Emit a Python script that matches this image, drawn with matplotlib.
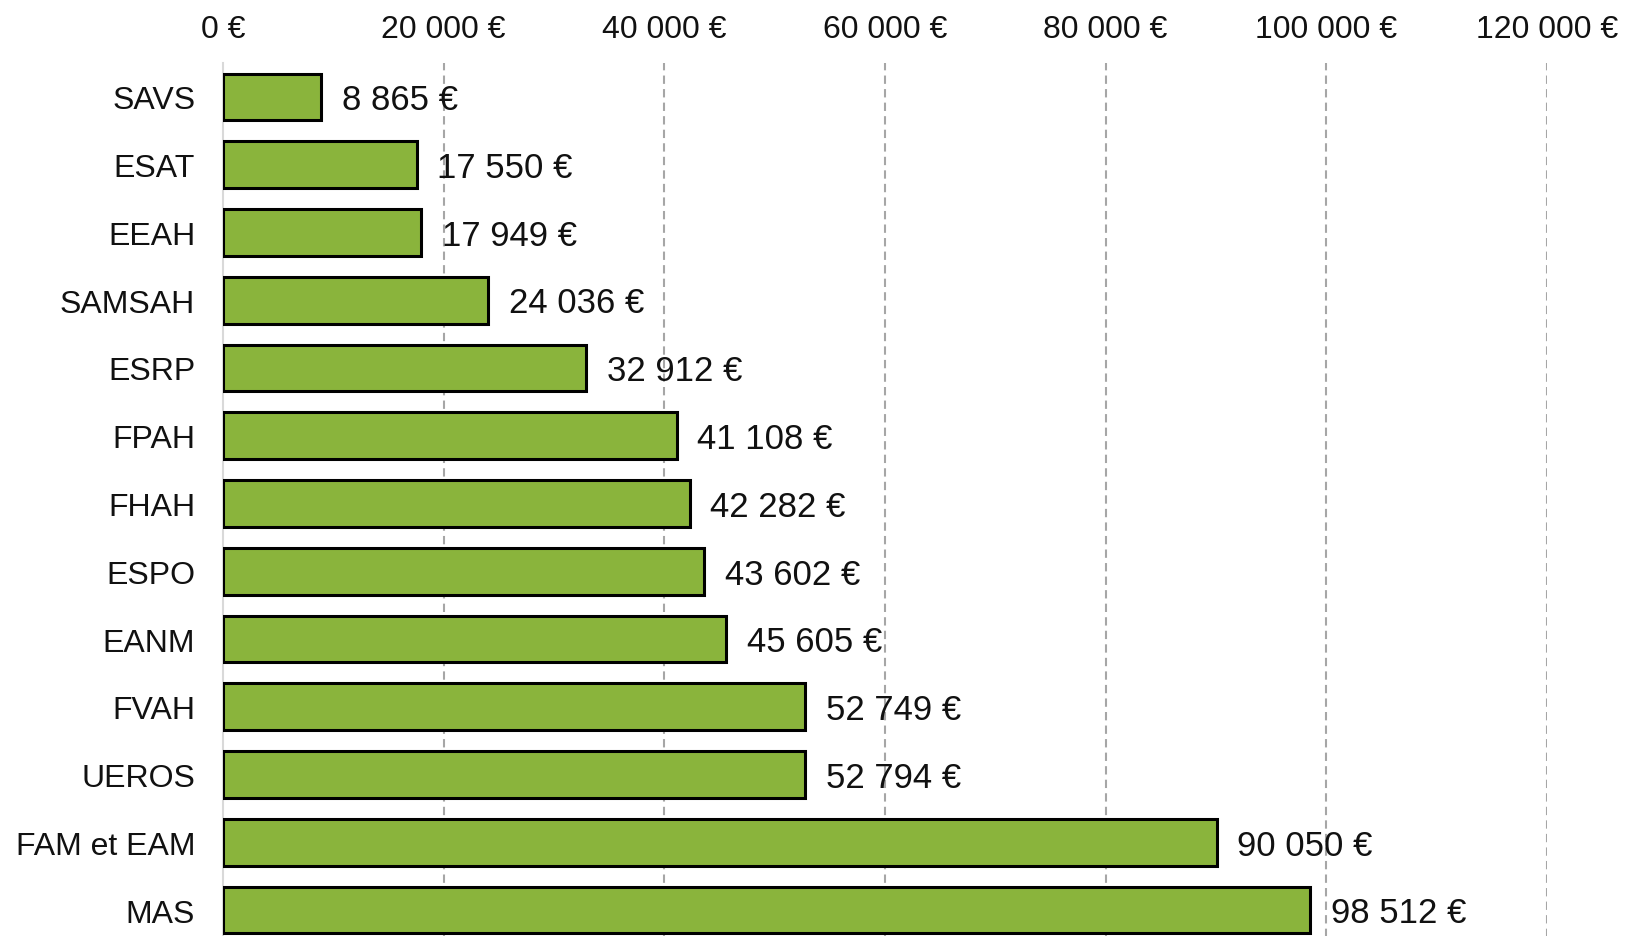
import matplotlib
matplotlib.use("Agg")
import matplotlib.pyplot as plt

categories = ["SAVS", "ESAT", "EEAH", "SAMSAH", "ESRP", "FPAH", "FHAH", "ESPO",
              "EANM", "FVAH", "UEROS", "FAM et EAM", "MAS"]
values = [8865, 17550, 17949, 24036, 32912, 41108, 42282, 43602,
          45605, 52749, 52794, 90050, 98512]
xticks = [0, 20000, 40000, 60000, 80000, 100000, 120000]

def fmt(v):
    return f"{v:,.0f}".replace(",", " ") + " €"

plt.rcParams['font.family'] = ['Liberation Sans', 'DejaVu Sans']

W, H = 1626, 937
fig = plt.figure(figsize=(W / 100, H / 100), dpi=100)
left, right, top, bottom = 223, 1547, 64, 945
ax = fig.add_axes([left / W, 1 - bottom / H, (right - left) / W, (bottom - top) / H])

ypos = list(range(len(categories)))
ax.barh(ypos, values, height=0.69, color="#8AB43C", edgecolor="black",
        linewidth=2.2, zorder=3)

for y, v in zip(ypos, values):
    ax.annotate(fmt(v), xy=(v, y), xytext=(15, -2), textcoords="offset points",
                ha="left", va="center", fontsize=25, color="#111111", zorder=4)

ax.set_xlim(0, 120000)
ax.set_ylim(len(categories) - 0.5, -0.5)
ax.set_yticks(ypos)
ax.set_yticklabels(categories, fontsize=23, color="#111111")
ax.set_xticks(xticks)
ax.set_xticklabels([fmt(t) for t in xticks], fontsize=23, color="#111111")
ax.xaxis.tick_top()
ax.tick_params(axis="x", length=0, pad=14)
ax.tick_params(axis="y", length=0, pad=20)

for s in ["top", "right", "bottom"]:
    ax.spines[s].set_visible(False)
ax.spines["left"].set_color("#d9d9d9")
ax.spines["left"].set_linewidth(1.5)
ax.spines["left"].set_zorder(2)

ax.grid(axis="x", color="#a6a6a6", linestyle=(0, (4, 2.5)), linewidth=1.5, zorder=1)
ax.set_axisbelow(True)
ax.xaxis.get_gridlines()[0].set_visible(False)

fig.savefig("out.png", dpi=100)
